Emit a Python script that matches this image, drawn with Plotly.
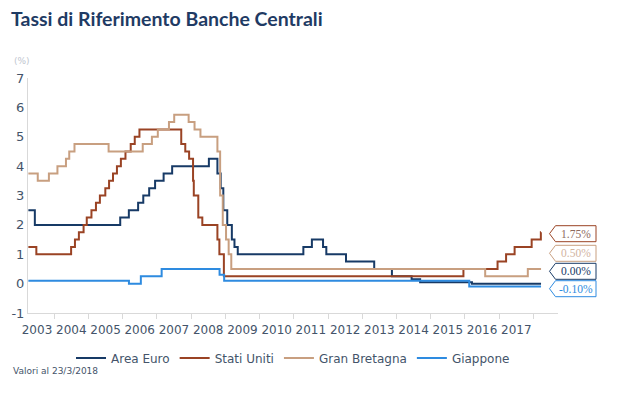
import plotly.graph_objects as go

# ---- data (policy rate step changes) ----
euro_dates = ["2003-04-01", "2003-06-09", "2005-12-06", "2006-03-08", "2006-06-15", "2006-08-09",
              "2006-10-11", "2006-12-13", "2007-03-14", "2007-06-13", "2008-07-09", "2008-10-08",
              "2008-11-12", "2008-12-10", "2009-01-21", "2009-03-11", "2009-04-08", "2009-05-13",
              "2011-04-13", "2011-07-13", "2011-11-09", "2011-12-14", "2012-07-11", "2013-05-08",
              "2013-11-13", "2014-06-11", "2014-09-10", "2016-03-16", "2018-03-23"]
euro_vals = [2.50, 2.00, 2.25, 2.50, 2.75, 3.00, 3.25, 3.50, 3.75, 4.00, 4.25, 3.75,
             3.25, 2.50, 2.00, 1.50, 1.25, 1.00, 1.25, 1.50, 1.25, 1.00, 0.75, 0.50,
             0.25, 0.15, 0.05, 0.00, 0.00]

us_dates = ["2003-04-01", "2003-06-25", "2004-06-30", "2004-08-10", "2004-09-21", "2004-11-10",
            "2004-12-14", "2005-02-02", "2005-03-22", "2005-05-03", "2005-06-30", "2005-08-09",
            "2005-09-20", "2005-11-01", "2005-12-13", "2006-01-31", "2006-03-28", "2006-05-10",
            "2006-06-29", "2007-09-18", "2007-10-31", "2007-12-11", "2008-01-22", "2008-01-30",
            "2008-03-18", "2008-04-30", "2008-10-08", "2008-10-29", "2008-12-16", "2015-12-16",
            "2016-12-14", "2017-03-15", "2017-06-14", "2017-12-13", "2018-03-21", "2018-03-23"]
us_vals = [1.25, 1.00, 1.25, 1.50, 1.75, 2.00, 2.25, 2.50, 2.75, 3.00, 3.25, 3.50,
           3.75, 4.00, 4.25, 4.50, 4.75, 5.00, 5.25, 4.75, 4.50, 4.25, 3.50, 3.00,
           2.25, 2.00, 1.50, 1.00, 0.25, 0.50, 0.75, 1.00, 1.25, 1.50, 1.75, 1.75]

uk_dates = ["2003-04-01", "2003-07-10", "2003-11-06", "2004-02-05", "2004-05-06", "2004-06-10",
            "2004-08-05", "2005-08-04", "2006-08-03", "2006-11-09", "2007-01-11", "2007-05-10",
            "2007-07-05", "2007-12-06", "2008-02-07", "2008-04-10", "2008-10-08", "2008-11-06",
            "2008-12-04", "2009-01-08", "2009-02-05", "2009-03-05", "2016-08-04", "2017-11-02",
            "2018-03-23"]
uk_vals = [3.75, 3.50, 3.75, 4.00, 4.25, 4.50, 4.75, 4.50, 4.75, 5.00, 5.25, 5.50,
           5.75, 5.50, 5.25, 5.00, 4.50, 3.00, 2.00, 1.50, 1.00, 0.50, 0.25, 0.50, 0.50]

jp_dates = ["2003-04-01", "2006-03-09", "2006-07-14", "2007-02-21", "2008-10-31", "2008-12-19",
            "2016-02-16", "2018-03-23"]
jp_vals = [0.10, 0.00, 0.25, 0.50, 0.30, 0.10, -0.10, -0.10]

series_names = ["Area Euro", "Stati Uniti", "Gran Bretagna", "Giappone"]
year_labels = [str(y) for y in range(2003, 2018)]
y_ticks = [-1, 0, 1, 2, 3, 4, 5, 6, 7]

# ---- styles ----
colors = ["#173a66", "#9a4324", "#c89f80", "#2e8be0"]
text_col = "#44546a"
axis_col = "#d9d9d9"

fig = go.Figure()
for name, d, v, c in zip(series_names,
                         [euro_dates, us_dates, uk_dates, jp_dates],
                         [euro_vals, us_vals, uk_vals, jp_vals], colors):
    fig.add_trace(go.Scatter(x=d, y=v, name=name, mode="lines",
                             line=dict(color=c, width=2, shape="hv")))

# page has an 8px body margin: figure is drawn offset by 8px
OFF = 8
W, H = 622 - OFF, 396 - OFF
# plot area in page pixels
PL, PR, PT, PB = 28, 558, 78, 313
L, R, T, B = PL - OFF, 622 - PR, PT - OFF, 396 - PB
pw, ph = PR - PL, PB - PT


def px_x(px):
    return (px - PL) / pw


def px_y(py):
    return (PB - py) / ph


# end-value callout labels (order: US, UK, Euro, Japan)
label_series = [(us_vals[-1], colors[1]), (uk_vals[-1], colors[2]),
                (euro_vals[-1], colors[0]), (jp_vals[-1], colors[3])]
label_centers_px = [233.7, 253.3, 271.3, 288.7]
label_text_cols = ["#8c6a5e", "#d2b49f", "#173a66", "#2e8be0"]
tip, x0, x1 = 549.5, 555.5, 596
hh = 8
for (val, col), cy, tc in zip(label_series, label_centers_px, label_text_cols):
    path = (f"M {px_x(tip)} {px_y(cy)} L {px_x(x0)} {px_y(cy - hh)} L {px_x(x1)} {px_y(cy - hh)} "
            f"L {px_x(x1)} {px_y(cy + hh)} L {px_x(x0)} {px_y(cy + hh)} Z")
    fig.add_shape(type="path", path=path, xref="paper", yref="paper",
                  line=dict(color=col, width=1), fillcolor="white", layer="above")
    fig.add_annotation(x=px_x((x0 + x1) / 2 + 0.5), y=px_y(cy), xref="paper", yref="paper",
                       xanchor="center", yanchor="middle",
                       text=f"{val:.2f}%", showarrow=False,
                       font=dict(family="Liberation Serif", size=11.5, color=tc))

# title as annotation
fig.add_annotation(x=px_x(9), y=px_y(18), xref="paper", yref="paper",
                   xanchor="left", yanchor="middle", showarrow=False,
                   text="<b>Tassi di Riferimento Banche Centrali</b>",
                   font=dict(family="Lato", size=19.5, color="#1f3b64"))
fig.add_annotation(x=px_x(12), y=px_y(61), xref="paper", yref="paper",
                   xanchor="left", yanchor="middle", showarrow=False,
                   text="(%)", font=dict(size=9, color="#c0c6cf"))
fig.add_annotation(x=px_x(11), y=px_y(371), xref="paper", yref="paper",
                   xanchor="left", yanchor="middle", showarrow=False,
                   text="Valori al 23/3/2018", font=dict(size=9, color=text_col))

fig.update_layout(
    width=W, height=H,
    margin=dict(l=L, r=R, t=T, b=B, autoexpand=False),
    paper_bgcolor="white", plot_bgcolor="white",
    font=dict(family="DejaVu Sans", color=text_col),
    showlegend=True,
    legend=dict(orientation="h", x=px_x(293), xanchor="center", y=px_y(358),
                yanchor="middle", font=dict(size=12, color=text_col),
                itemwidth=30, traceorder="normal"),
    xaxis=dict(type="date", range=["2003-03-28", "2018-09-20"],
               tickmode="array",
               tickvals=[f"{y}-07-02" for y in year_labels],
               ticktext=year_labels, ticks="", ticklabelstandoff=6,
               tickfont=dict(size=12, color=text_col),
               showgrid=False, zeroline=False,
               showline=True, linecolor=axis_col, linewidth=1,
               minor=dict(dtick="M12", tick0="2003-01-01", ticks="outside",
                          ticklen=5, tickcolor=axis_col, showgrid=False)),
    yaxis=dict(range=[-1, 7], tickmode="array", tickvals=y_ticks,
               ticktext=[str(t) for t in y_ticks],
               tickfont=dict(size=13, color=text_col),
               showgrid=False, zeroline=False, showline=True,
               linecolor=axis_col, linewidth=1, ticks="", ticklabelstandoff=0),
)

fig.write_html("out.html")
